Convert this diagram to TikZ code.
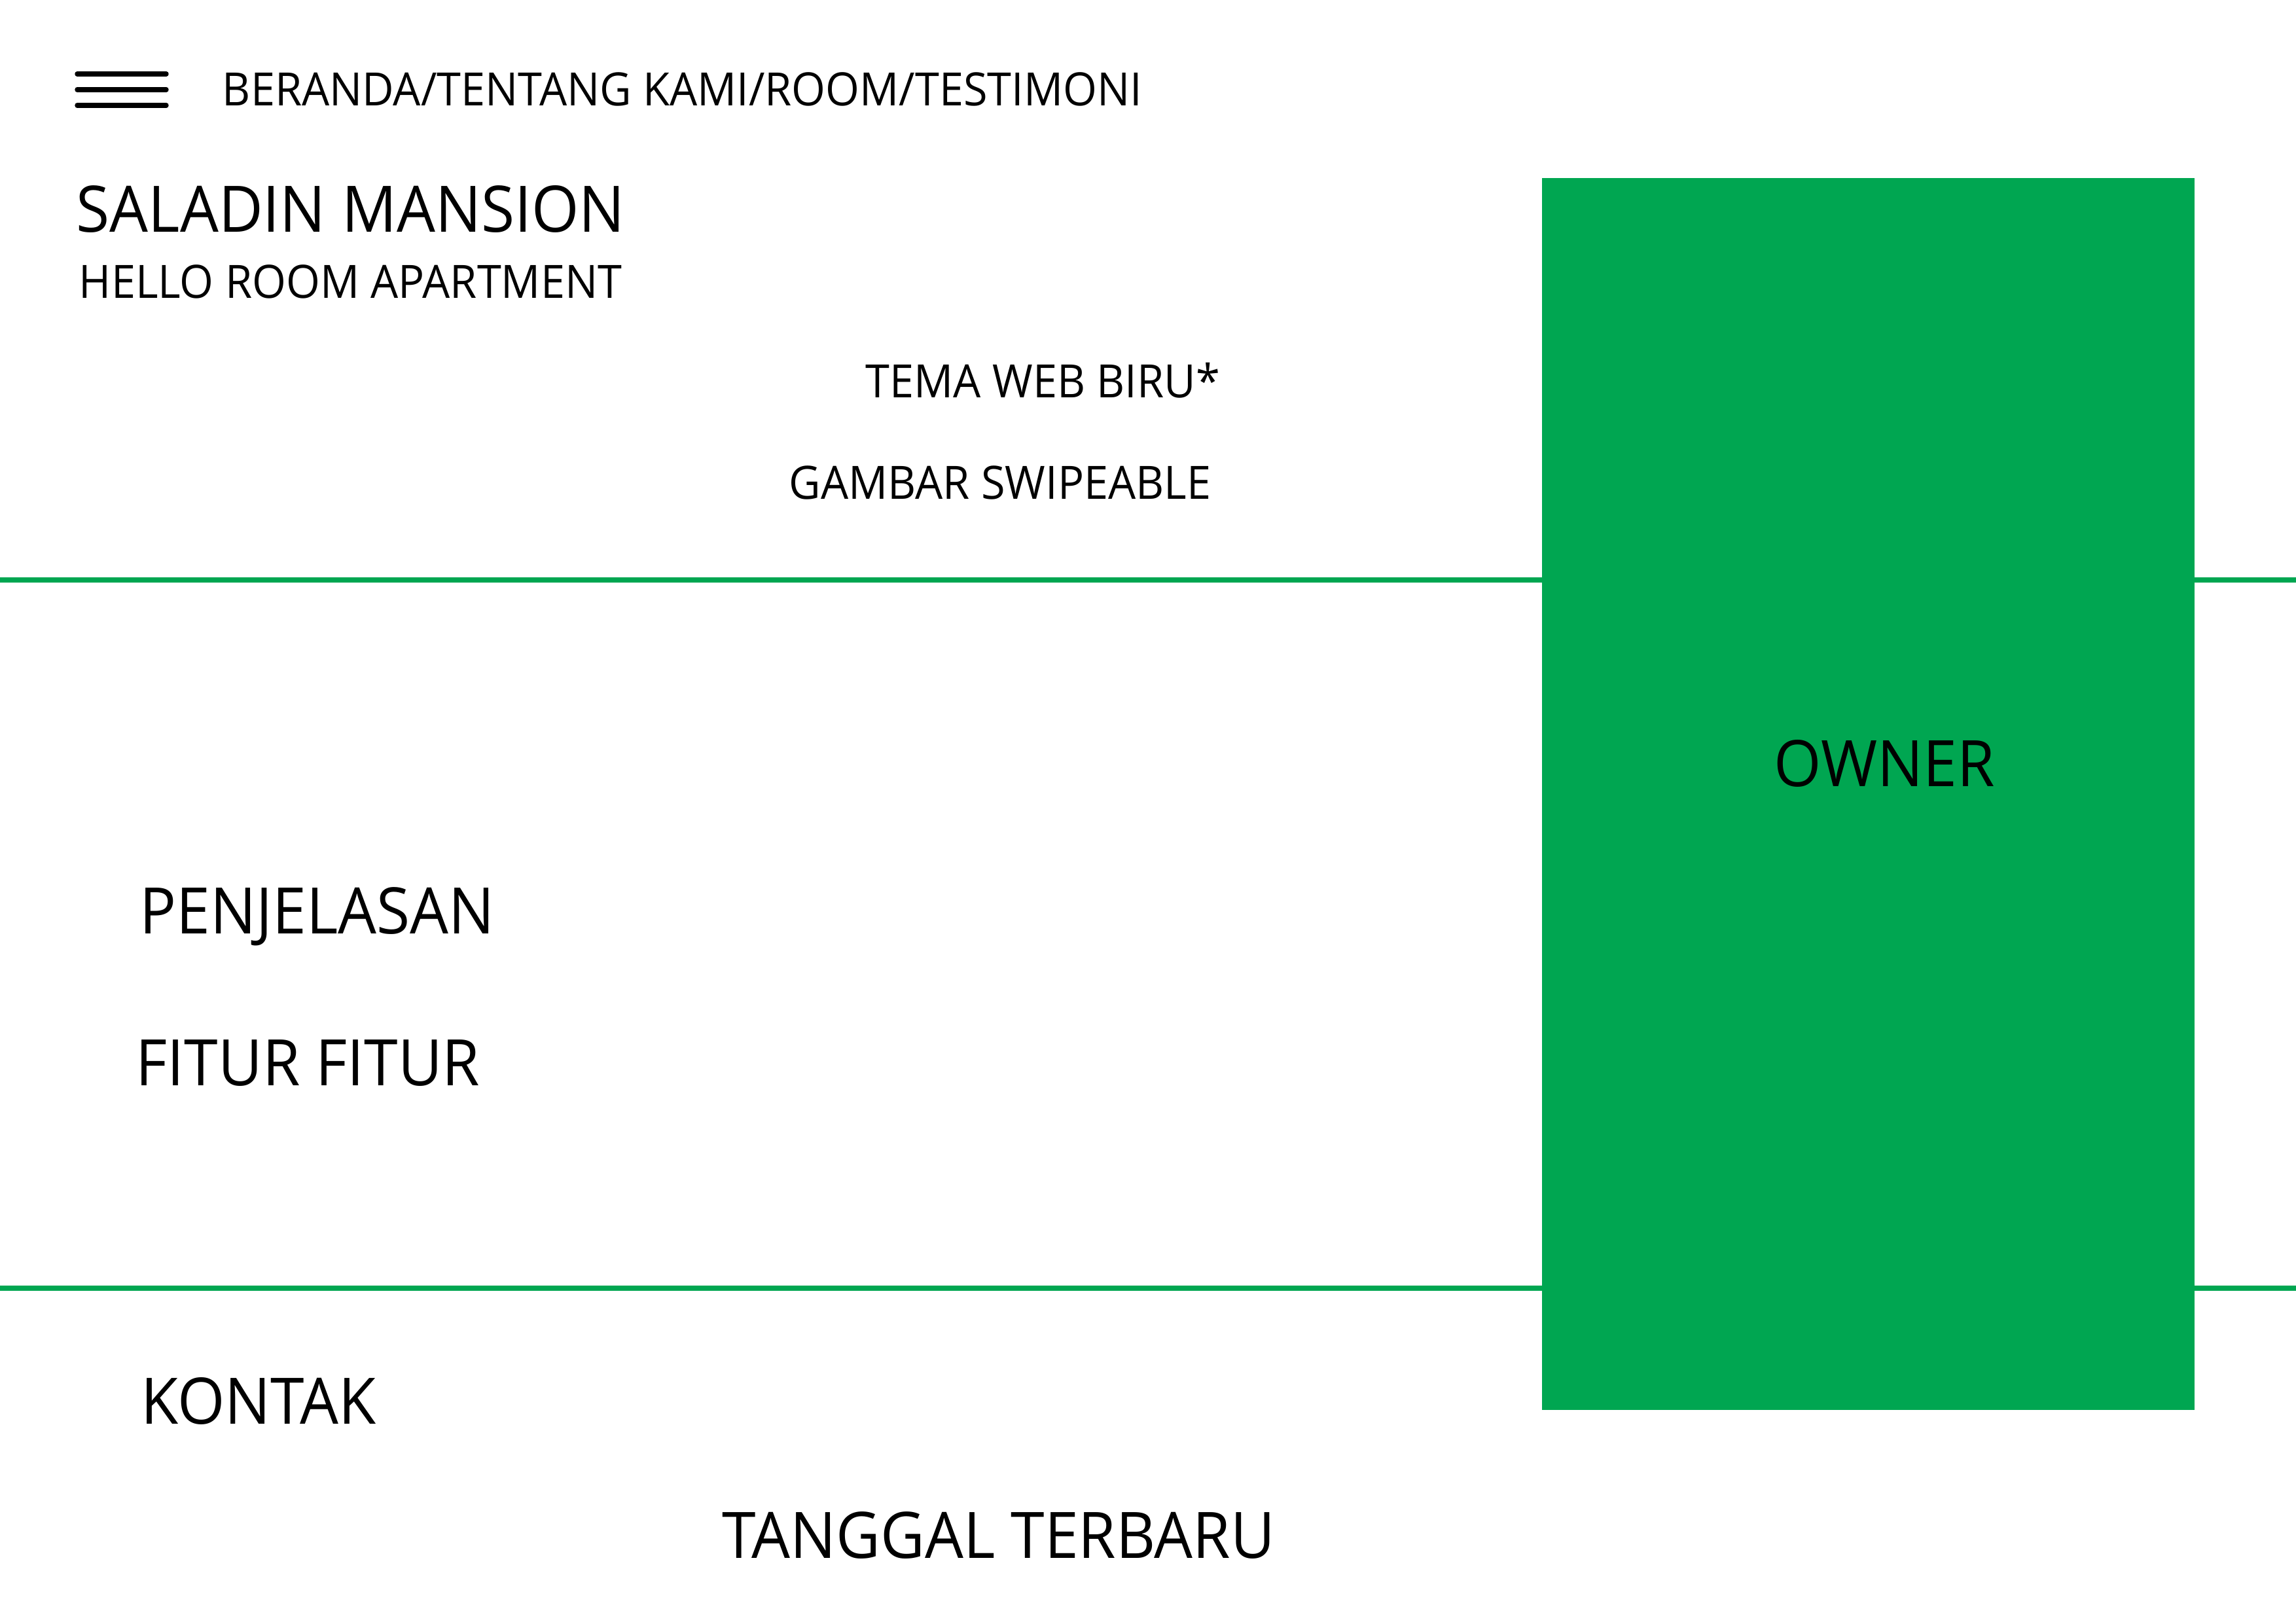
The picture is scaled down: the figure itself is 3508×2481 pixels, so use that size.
\documentclass[tikz,border=0pt]{standalone}
\usepackage{fontspec}
\setmainfont[FakeStretch=0.95]{Open Sans}
\definecolor{webgreen}{RGB}{0,166,81}

\begin{document}
\begin{tikzpicture}[x=0.084664mm, y=-0.084664mm]
    \tikzset{ label/.style={anchor=base west, inner sep=0pt, font=\fontsize{16.9pt}{20pt}\selectfont},
            heading/.style={anchor=base west, inner sep=0pt, font=\fontsize{23.6pt}{28pt}\selectfont},
            divider/.style={webgreen, line width=1.7pt},
            burger/.style={line width=1.8pt, line cap=round}}
    \useasboundingbox (0,0) rectangle (3508,2481);

    % Lignes de section
    \draw[divider] (0,886) -- (3508,886);
    \draw[divider] (0,1968) -- (3508,1968);

    % Menu
    \foreach \y in {113,137,161}
        \draw[burger] (118,\y) -- (254,\y);
    \node[label] (menu) at (339,162) {BERANDA/TENTANG KAMI/ROOM/TESTIMONI};

    % En-tete
    \node[heading] (title) at (116,355) {SALADIN MANSION};
    \node[label] (subtitle) at (120,456) {HELLO ROOM APARTMENT};
    \node[label] (theme) at (1322,608) {TEMA WEB BIRU*};
    \node[label] (slider) at (1205,763) {GAMBAR SWIPEABLE};

    % Bloc owner
    \node[rectangle, fill=webgreen, inner sep=0pt, minimum width=84.41mm, minimum height=159.34mm, anchor=north west] (ownerbox) at (2355,271) {};
    \node[heading] (owner) at (2710,1201) {OWNER};

    % Contenu
    \node[heading] (desc) at (213,1426) {PENJELASAN};
    \node[heading] (features) at (207,1658) {FITUR FITUR};
    \node[heading] (contact) at (215,2175) {KONTAK};
    \node[heading] (date) at (1103,2380) {TANGGAL TERBARU};
\end{tikzpicture}
\end{document}
